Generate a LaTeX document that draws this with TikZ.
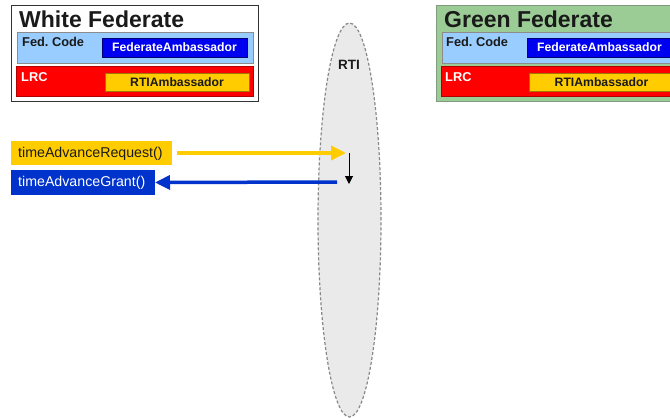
\documentclass[tikz,border=0pt]{standalone}
\usepackage{fontspec}
\setmainfont{Liberation Sans}
\usetikzlibrary{arrows.meta,shapes.geometric}
\definecolor{lblue}{HTML}{99CCFF}
\definecolor{fblue}{HTML}{0000F0}
\definecolor{fbord}{HTML}{000070}
\definecolor{lrcred}{HTML}{FF0000}
\definecolor{lrcbord}{HTML}{B00000}
\definecolor{gold}{HTML}{FFCC00}
\definecolor{goldbord}{HTML}{A07800}
\definecolor{gfill}{HTML}{9CCC96}
\definecolor{gbord}{HTML}{7F9A7C}
\definecolor{grantblue}{HTML}{0033CC}
\definecolor{rtifill}{HTML}{EAEAEA}
\definecolor{rtibord}{HTML}{888888}
\definecolor{dark}{HTML}{1A1A1A}
\begin{document}
\begin{tikzpicture}[x=1pt,y=-1pt,
  blk/.style={anchor=north west,inner sep=0pt,outer sep=0pt},
  title/.style={anchor=base west,inner sep=0pt,font=\fontsize{23}{26}\selectfont\bfseries,text=dark},
  lbl/.style={anchor=base west,inner sep=0pt,font=\fontsize{12.8}{14}\selectfont\bfseries},
  amb/.style={inner sep=0pt,font=\fontsize{12.2}{14}\selectfont\bfseries},
  call/.style={anchor=north west,inner sep=0pt,font=\fontsize{14.2}{16}\selectfont},
  bigarrow/.style={line width=3.5pt,-{Triangle[length=15pt,width=14pt]}},
]
\clip (0,0) rectangle (670,418);
\fill[white] (0,0) rectangle (670,418);

% RTI ellipse
\node[ellipse,draw=rtibord,fill=rtifill,line width=1.2pt,dash pattern=on 3pt off 2pt,
  minimum width=63pt,minimum height=394pt,inner sep=0pt] (rti) at (349.5,220) {};
\node[inner sep=0pt,font=\fontsize{13.5}{15}\selectfont\bfseries,text=dark] (rtilbl) at (349,65) {RTI};

% White federate
\node[blk,draw=black!80,fill=white,line width=0.8pt,minimum width=247pt,minimum height=96pt] (wf) at (11,5) {};
\node[title] (wft) at (19,27.5) {White Federate};
\node[blk,draw=black!45,fill=lblue,line width=0.6pt,minimum width=236pt,minimum height=31pt] (wfc) at (17,32) {};
\node[lbl,text=dark] (wfcl) at (22,46.5) {Fed.\ Code};
\node[blk,draw=fbord,fill=fblue,line width=0.6pt,minimum width=145pt,minimum height=19pt] (wfa) at (102,38) {};
\node[amb,text=white] at (wfa.center) {FederateAmbassador};
\node[blk,draw=lrcbord,fill=lrcred,line width=0.6pt,minimum width=237pt,minimum height=30pt] (wl) at (16,66) {};
\node[lbl,text=white] (wll) at (21,81) {LRC};
\node[blk,draw=goldbord,fill=gold,line width=0.6pt,minimum width=144pt,minimum height=18pt] (wra) at (105,73) {};
\node[amb,text=dark] at (wra.center) {RTIAmbassador};

% Green federate
\node[blk,draw=gbord,fill=gfill,line width=0.8pt,minimum width=250pt,minimum height=96pt] (gf) at (436,5) {};
\node[title] (gft) at (444,27.5) {Green Federate};
\node[blk,draw=black!45,fill=lblue,line width=0.6pt,minimum width=240pt,minimum height=31pt] (gfc) at (442,32) {};
\node[lbl,text=dark] (gfcl) at (446,46) {Fed.\ Code};
\node[blk,draw=fbord,fill=fblue,line width=0.6pt,minimum width=145pt,minimum height=19pt] (gfa) at (527,38) {};
\node[amb,text=white] at (gfa.center) {FederateAmbassador};
\node[blk,draw=lrcbord,fill=lrcred,line width=0.6pt,minimum width=240pt,minimum height=30pt] (gl) at (441,66) {};
\node[lbl,text=white] (gll) at (445,81) {LRC};
\node[blk,draw=goldbord,fill=gold,line width=0.6pt,minimum width=145pt,minimum height=18pt] (gra) at (529,73) {};
\node[amb,text=dark] at (gra.center) {RTIAmbassador};

% Calls
\node[blk,fill=gold,minimum width=161pt,minimum height=24pt] (req) at (11,141) {};
\node[call,text=dark,anchor=west] at (18,153.5) {timeAdvanceRequest()};
\node[blk,fill=grantblue,minimum width=144pt,minimum height=25pt] (grant) at (11,170) {};
\node[call,text=white,anchor=west] at (18,183) {timeAdvanceGrant()};

\coordinate (reqEnd) at (346,153);
\coordinate (grantStart) at (337,182);
\coordinate (t1) at (349,153);
\coordinate (t2) at (349,184);
\draw[bigarrow,draw=gold,fill=gold] ([xshift=5pt]req.east) -- (reqEnd);
\draw[bigarrow,draw=grantblue,fill=grantblue] (grantStart) -- (grant.east);
\draw[line width=1pt,-{Triangle[length=8pt,width=8pt]}] (t1) -- (t2);
\end{tikzpicture}
\end{document}
